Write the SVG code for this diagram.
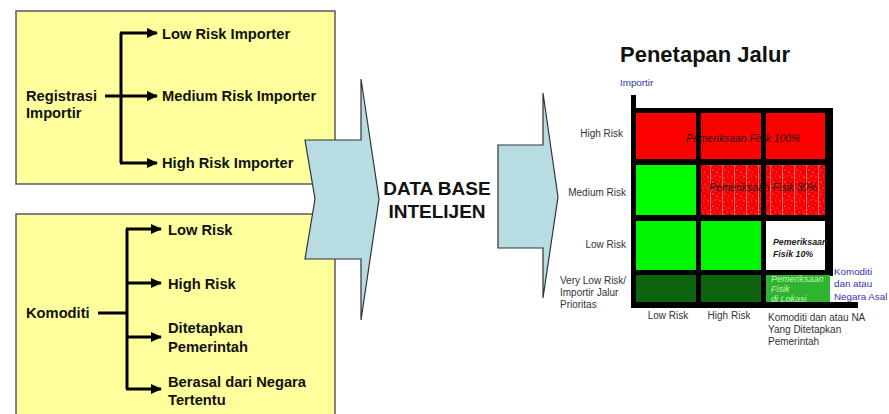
<svg xmlns="http://www.w3.org/2000/svg" width="889" height="414" viewBox="0 0 889 414">
<style>
.box{fill:#ffff9c;stroke:#5a5a5a;stroke-width:1.5}
.arr{fill:#b7dde3;stroke:#333;stroke-width:1.2;stroke-linejoin:miter}
.bt{font-family:"Liberation Sans",Arial,sans-serif;font-weight:bold;font-size:14.7px;fill:#111}
.big{font-family:"Liberation Sans",Arial,sans-serif;font-weight:bold;font-size:19px;fill:#111;text-anchor:middle}
.ttl{font-family:"Liberation Sans",Arial,sans-serif;font-weight:bold;font-size:22px;fill:#111}
.lb{font-family:"Liberation Sans",Arial,sans-serif;font-size:10px;fill:#333}
.blue{font-family:"Liberation Sans",Arial,sans-serif;font-size:9.8px;fill:#3333aa}
.ci{font-family:"Liberation Sans",Arial,sans-serif;font-style:italic;font-size:10.4px;fill:#1a1a1a}
.cb{font-family:"Liberation Sans",Arial,sans-serif;font-style:italic;font-weight:bold;font-size:8.8px;fill:#222}
.cg{font-family:"Liberation Sans",Arial,sans-serif;font-style:italic;font-size:9px;fill:#c6f3c0}
.con{fill:none;stroke:#000;stroke-width:3}
</style>
<defs>
<marker id="ah" markerUnits="userSpaceOnUse" markerWidth="11" markerHeight="10" refX="10" refY="5" orient="auto">
<path d="M0,0 L11,5 L0,10 z" fill="#000"/>
</marker>
<pattern id="speck" width="12" height="12" patternUnits="userSpaceOnUse" x="2" y="0">
<rect width="12" height="12" fill="#f40000"/>
<rect x="0" y="0" width="1" height="12" fill="#ffb0b0" opacity="0.6"/>
<circle cx="3" cy="2" r="0.6" fill="#fff" opacity="0.8"/>
<circle cx="7" cy="4" r="0.5" fill="#fff" opacity="0.7"/>
<circle cx="10" cy="9" r="0.6" fill="#fff" opacity="0.8"/>
<circle cx="5" cy="8" r="0.5" fill="#fff" opacity="0.7"/>
<circle cx="9" cy="1" r="0.4" fill="#fff" opacity="0.7"/>
<circle cx="2" cy="10" r="0.5" fill="#fff" opacity="0.7"/>
<circle cx="6" cy="11" r="0.4" fill="#fff" opacity="0.6"/>
<circle cx="11" cy="6" r="0.4" fill="#fff" opacity="0.6"/>
<circle cx="4" cy="5" r="0.4" fill="#fff" opacity="0.6"/>
<circle cx="8" cy="7" r="0.4" fill="#fff" opacity="0.6"/>
<circle cx="1.5" cy="6" r="0.4" fill="#fff" opacity="0.6"/>
</pattern>
</defs>
<rect width="889" height="414" fill="#fff"/>

<g id="box-registrasi">
<rect class="box" x="16" y="11" width="319" height="173"/>
<text class="bt" x="26" y="101">Registrasi</text>
<text class="bt" x="26" y="118">Importir</text>
<text class="bt" x="162" y="39">Low Risk Importer</text>
<text class="bt" x="162" y="101">Medium Risk Importer</text>
<text class="bt" x="162" y="168">High Risk Importer</text>
</g>

<g id="box-komoditi">
<rect class="box" x="16" y="214" width="319" height="215"/>
<text class="bt" x="26" y="318">Komoditi</text>
<text class="bt" x="168" y="235">Low Risk</text>
<text class="bt" x="168" y="289">High Risk</text>
<text class="bt" x="168" y="333">Ditetapkan</text>
<text class="bt" x="168" y="352">Pemerintah</text>
<text class="bt" x="168" y="387">Berasal dari Negara</text>
<text class="bt" x="168" y="405">Tertentu</text>
</g>

<g id="connectors">
<path class="con" d="M105,96 H157" marker-end="url(#ah)"/>
<path class="con" d="M121,33 V163"/>
<path class="con" d="M120,33 H157" marker-end="url(#ah)"/>
<path class="con" d="M120,163 H157" marker-end="url(#ah)"/>
<path class="con" d="M98,313 H127"/>
<path class="con" d="M127,229 V389"/>
<path class="con" d="M126,229 H161" marker-end="url(#ah)"/>
<path class="con" d="M126,283 H161" marker-end="url(#ah)"/>
<path class="con" d="M126,337 H161" marker-end="url(#ah)"/>
<path class="con" d="M126,389 H161" marker-end="url(#ah)"/>
</g>

<g id="arrow-in">
<polygon class="arr" points="305,140 361,140 361,79 379,199 361,320 361,259 305,259 315,199"/>
</g>

<g id="database">
<text class="big" x="437" y="195">DATA BASE</text>
<text class="big" x="437" y="218">INTELIJEN</text>
</g>

<g id="arrow-out">
<polygon class="arr" points="498,145 543,145 543,93 558,197 543,298 543,248 498,248"/>
</g>

<g id="penetapan-jalur">
<text class="ttl" x="620" y="62">Penetapan Jalur</text>
<text class="blue" x="620" y="86">Importir</text>
<rect x="631" y="95" width="5" height="20" fill="#000"/>
<rect x="631" y="108" width="202" height="168" fill="#000"/>
<rect x="631" y="270" width="199" height="38" fill="#000"/>
<rect x="631" y="302" width="227" height="6" fill="#000"/>

<rect x="636" y="113" width="60" height="46" fill="#ff0000"/>
<rect x="701" y="113" width="60" height="46" fill="#ff0000"/>
<rect x="766" y="113" width="59" height="46" fill="#ff0000"/>

<rect x="636" y="165" width="60" height="50" fill="#00ff00"/>
<rect x="701" y="165" width="60" height="50" fill="url(#speck)"/>
<rect x="766" y="165" width="59" height="50" fill="url(#speck)"/>

<rect x="636" y="221" width="60" height="49" fill="#00f500"/>
<rect x="701" y="221" width="60" height="49" fill="#00f500"/>
<rect x="766" y="221" width="59" height="49" fill="#ffffff"/>

<rect x="636" y="275" width="60" height="27" fill="#0e640e"/>
<rect x="701" y="275" width="60" height="27" fill="#0e640e"/>
<rect x="766" y="275" width="64" height="27" fill="#2fb42f"/>

<text class="ci" x="686" y="142">Pemeriksaan Fisik 100%</text>
<text class="ci" x="709" y="191">Pemeriksaan Fisik 30%</text>
<text class="cb" x="773" y="245">Pemeriksaan</text>
<text class="cb" x="773" y="257">Fisik 10%</text>
<text class="cg" x="771" y="282">Pemeriksaan</text>
<text class="cg" x="771" y="292">Fisik</text>
<text class="cg" x="771" y="302">di Lokasi</text>

<text class="lb" x="623" y="137" text-anchor="end">High Risk</text>
<text class="lb" x="626" y="196" text-anchor="end">Medium Risk</text>
<text class="lb" x="626" y="248" text-anchor="end">Low Risk</text>
<text class="lb" x="560" y="284">Very Low Risk/</text>
<text class="lb" x="560" y="296">Importir Jalur</text>
<text class="lb" x="560" y="308">Prioritas</text>

<text class="lb" x="668" y="319" text-anchor="middle">Low Risk</text>
<text class="lb" x="729" y="319" text-anchor="middle">High Risk</text>
<text class="lb" x="768" y="321">Komoditi dan atau NA</text>
<text class="lb" x="768" y="333">Yang Ditetapkan</text>
<text class="lb" x="768" y="345">Pemerintah</text>

<text class="blue" x="834" y="275">Komoditi</text>
<text class="blue" x="834" y="287">dan atau</text>
<text class="blue" x="834" y="300">Negara Asal</text>
</g>
</svg>
